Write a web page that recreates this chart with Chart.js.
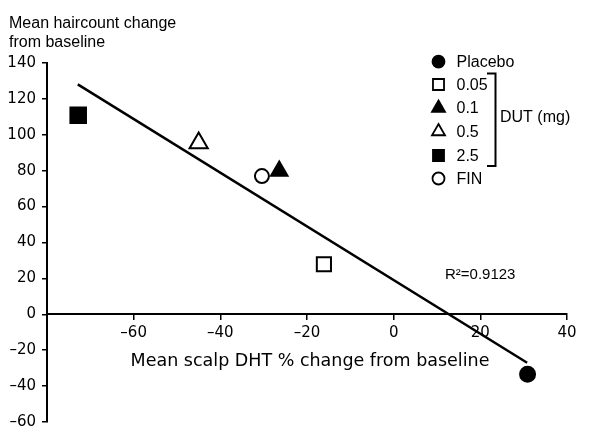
<!DOCTYPE html>
<html>
<head>
<meta charset="utf-8">
<script src="https://cdn.jsdelivr.net/npm/chart.js@4.4.1/dist/chart.umd.min.js"></script>
<style>
  html, body { margin: 0; padding: 0; background: #fff; }
  #wrap { width: 600px; height: 438px; }
</style>
</head>
<body>
<div id="wrap"><canvas id="myChart" width="600" height="438"></canvas></div>
<script>
const groups = ['Placebo', '0.05', '0.1', '0.5', '2.5', 'FIN'];
const dhtChange = [30.9, -16.1, -26.4, -45.0, -72.8, -30.4];
const hairChange = [-33.4, 27.9, 79.8, 95.5, 110.9, 77.0];
const fitX = [-72.9, 30.8];
const fitY = [128.1, -27.0];
const rSquared = 'R\u00B2=0.9123';
const yTitle = ['Mean haircount change', 'from baseline'];
const xTitle = 'Mean scalp DHT % change from baseline';
const dutLabel = 'DUT (mg)';

// marker look for each group (plot size, legend size)
const markers = [
  { style: 'circle', fill: '#000', r: 7.5, lr: 6 },
  { style: 'rect', fill: '#fff', r: 10, lr: 7.8 },
  { style: 'triangle', fill: '#000', r: 9.5, lr: 7.5 },
  { style: 'triangle', fill: '#fff', r: 10.5, lr: 7.5 },
  { style: 'rect', fill: '#000', r: 11, lr: 7.8 },
  { style: 'circle', fill: '#fff', r: 7, lr: 6 }
];

const tickFont = { family: 'DejaVu Sans', size: 15 };
const minus = v => (v < 0 ? '\u2013' + Math.abs(v) : '' + v);

const datasets = groups.map((g, i) => ({
  label: g,
  data: [{ x: dhtChange[i], y: hairChange[i] }],
  pointStyle: markers[i].style,
  pointRadius: markers[i].r,
  pointBackgroundColor: markers[i].fill,
  pointBorderColor: '#000',
  pointBorderWidth: 2,
  order: 0
}));
datasets.push({
  label: 'fit',
  data: fitX.map((x, i) => ({ x: x, y: fitY[i] })),
  showLine: true,
  borderColor: '#000',
  borderWidth: 2.5,
  pointRadius: 0,
  order: 1
});

const extras = {
  id: 'extras',
  afterDraw(chart) {
    const ctx = chart.ctx;
    ctx.save();
    ctx.fillStyle = '#000';
    ctx.textBaseline = 'alphabetic';

    // y axis title, top left
    ctx.font = '16px "Liberation Sans", Arial, sans-serif';
    ctx.textAlign = 'left';
    ctx.fillText(yTitle[0], 9, 28);
    ctx.fillText(yTitle[1], 9, 46.5);

    // x axis title below the zero line
    const y0 = chart.scales.y.getPixelForValue(0);
    ctx.font = '17.5px "DejaVu Sans", sans-serif';
    ctx.textAlign = 'center';
    ctx.fillText(xTitle, 310, y0 + 52);

    // R squared
    ctx.font = '15px "Liberation Sans", Arial, sans-serif';
    ctx.textAlign = 'left';
    ctx.textBaseline = 'middle';
    ctx.fillText(rSquared, 445, 275);

    // legend
    ctx.font = '16px "Liberation Sans", Arial, sans-serif';
    const rows = [61.7, 84.5, 108, 131.5, 155.5, 178.5];
    groups.forEach((g, i) => {
      ctx.fillStyle = markers[i].fill;
      ctx.strokeStyle = '#000';
      ctx.lineWidth = 1.8;
      Chart.helpers.drawPoint(ctx, {
        pointStyle: markers[i].style,
        radius: markers[i].lr,
        rotation: 0,
        borderWidth: 1.8
      }, 438.5, rows[i]);
      ctx.fillStyle = '#000';
      ctx.fillText(g, 456.5, rows[i] + 1);
    });

    // bracket around the DUT doses
    ctx.beginPath();
    ctx.lineWidth = 2;
    ctx.moveTo(487, 73.5);
    ctx.lineTo(495.5, 73.5);
    ctx.lineTo(495.5, 166);
    ctx.lineTo(487, 166);
    ctx.stroke();
    ctx.fillText(dutLabel, 500, 118);

    ctx.restore();
  }
};

new Chart(document.getElementById('myChart').getContext('2d'), {
  type: 'scatter',
  data: { datasets: datasets },
  options: {
    responsive: false,
    animation: false,
    devicePixelRatio: 1,
    layout: { padding: { left: 0, right: 33, top: 63, bottom: 16 } },
    plugins: {
      legend: { display: false },
      tooltip: { enabled: false }
    },
    scales: {
      x: {
        type: 'linear',
        position: { y: 0 },
        min: -80,
        max: 40,
        ticks: {
          stepSize: 20,
          color: '#000',
          font: tickFont,
          padding: 5,
          callback: v => (v === -80 ? '' : minus(v))
        },
        grid: { drawOnChartArea: false, color: '#000', tickLength: 5, lineWidth: 1.5 },
        border: { color: '#000', width: 2 },
        afterFit: s => { s.height = 0; }
      },
      y: {
        type: 'linear',
        min: -60,
        max: 140,
        ticks: {
          stepSize: 20,
          color: '#000',
          font: tickFont,
          padding: 6,
          callback: v => minus(v)
        },
        grid: { drawOnChartArea: false, color: '#000', tickLength: 5, lineWidth: 1.5 },
        border: { color: '#000', width: 2 },
        afterFit: s => { s.width = 47; }
      }
    }
  },
  plugins: [extras]
});
</script>
</body>
</html>
